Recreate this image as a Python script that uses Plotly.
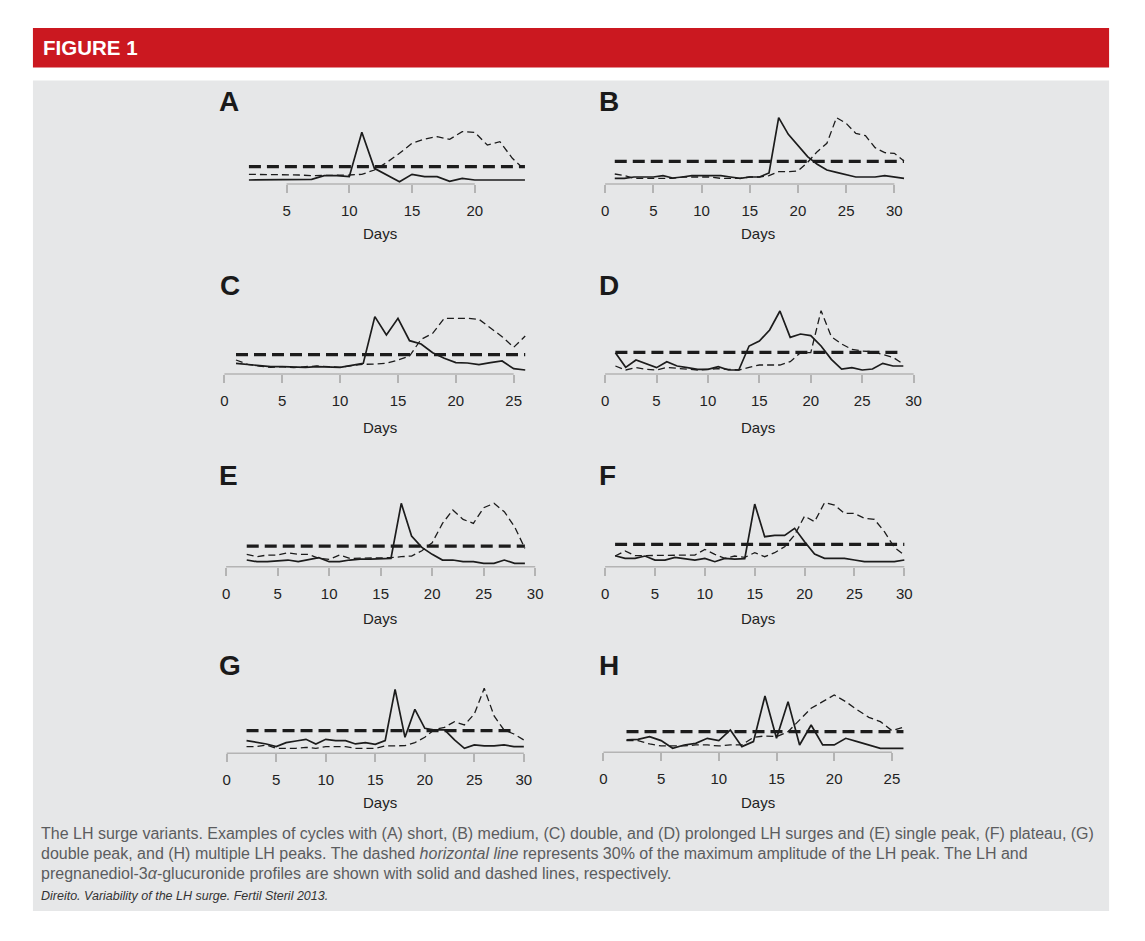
import plotly.graph_objects as go

# ---------------- data (relative units) ----------------
panel_letters = ["A", "B", "C", "D", "E", "F", "G", "H"]

days_A = list(range(2, 25))
lh_A = [12, 12, 12, 12, 12, 14, 25, 25, 22, 155, 47, 27, 7, 29, 22, 22, 8, 17, 12, 12, 12, 12, 12]
pdg_A = [29, 29, 29, 29, 27, 25, 25, 25, 27, 29, 42, 65, 92, 122, 135, 142, 134, 157, 155, 117, 127, 77, 42]
thr_A = 52
thr_days_A = [2, 24]
ticks_A = [5, 10, 15, 20]

days_B = list(range(1, 32))
lh_B = [17, 17, 21, 21, 21, 25, 18, 21, 25, 25, 25, 25, 21, 17, 21, 21, 33, 199, 149, 117, 82, 59, 42, 35, 29, 21, 21, 21, 25, 21, 17]
pdg_B = [30, 25, 17, 17, 17, 17, 17, 21, 21, 21, 21, 17, 17, 17, 21, 21, 25, 37, 37, 39, 65, 97, 122, 199, 182, 152, 145, 109, 94, 92, 69]
thr_B = 68
thr_days_B = [1, 31]
ticks_B = [0, 5, 10, 15, 20, 25, 30]

days_C = list(range(1, 27))
lh_C = [32, 28, 24, 22, 22, 20, 20, 22, 22, 20, 26, 32, 172, 117, 167, 100, 90, 64, 47, 34, 33, 28, 34, 39, 16, 12]
pdg_C = [42, 29, 24, 20, 22, 19, 22, 24, 22, 20, 25, 29, 30, 32, 42, 54, 104, 122, 167, 167, 167, 164, 137, 112, 80, 114]
thr_C = 58
thr_days_C = [1, 26]
ticks_C = [0, 5, 10, 15, 20, 25]

days_D = list(range(1, 30))
lh_D = [64, 20, 42, 30, 19, 37, 24, 19, 14, 14, 22, 12, 12, 84, 99, 132, 189, 110, 120, 115, 84, 44, 15, 19, 12, 15, 32, 24, 24]
pdg_D = [24, 12, 19, 14, 12, 20, 17, 14, 12, 14, 16, 14, 12, 20, 27, 27, 27, 37, 64, 64, 190, 112, 90, 74, 69, 67, 59, 50, 30]
thr_D = 65
thr_days_D = [1, 29]
ticks_D = [0, 5, 10, 15, 20, 25, 30]

days_E = list(range(2, 30))
lh_E = [20, 15, 15, 18, 20, 15, 20, 27, 15, 15, 20, 23, 23, 25, 25, 190, 92, 58, 37, 20, 20, 15, 15, 10, 10, 20, 10, 10]
pdg_E = [37, 30, 35, 35, 42, 37, 37, 25, 22, 35, 25, 25, 25, 27, 27, 30, 32, 48, 72, 130, 170, 142, 130, 177, 190, 165, 120, 55]
thr_E = 62
thr_days_E = [2, 29]
ticks_E = [0, 5, 10, 15, 20, 25, 30]

days_F = list(range(1, 31))
lh_F = [33, 25, 25, 32, 20, 20, 28, 24, 20, 25, 15, 25, 23, 24, 188, 90, 94, 94, 115, 75, 38, 25, 25, 25, 20, 15, 15, 15, 15, 20]
pdg_F = [32, 47, 33, 33, 35, 35, 35, 35, 35, 52, 37, 25, 32, 28, 42, 30, 42, 60, 95, 152, 135, 192, 185, 160, 160, 145, 142, 105, 58, 35]
thr_F = 67
thr_days_F = [1, 30]
ticks_F = [0, 5, 10, 15, 20, 25, 30]

days_G = list(range(2, 31))
lh_G = [38, 33, 28, 20, 32, 37, 42, 28, 42, 38, 38, 28, 32, 27, 38, 192, 48, 132, 75, 70, 70, 40, 15, 25, 22, 22, 25, 20, 20]
pdg_G = [20, 20, 25, 15, 15, 15, 18, 15, 20, 20, 20, 15, 15, 15, 22, 23, 23, 32, 48, 72, 78, 95, 85, 118, 195, 112, 70, 58, 40]
thr_G = 68
thr_days_G = [2, 29]
ticks_G = [0, 5, 10, 15, 20, 25, 30]

days_H = list(range(2, 27))
lh_H = [37, 39, 47, 35, 12, 22, 27, 42, 35, 67, 17, 32, 169, 42, 152, 22, 82, 22, 22, 42, 32, 22, 12, 12, 12]
pdg_H = [35, 35, 25, 19, 19, 19, 22, 22, 19, 22, 22, 45, 49, 47, 62, 97, 132, 152, 172, 152, 127, 105, 92, 65, 75]
thr_H = 62
thr_days_H = [2, 26]
ticks_H = [0, 5, 10, 15, 20, 25]

x_label = "Days"
header_text = "FIGURE 1"
caption_lines = [
    "The LH surge variants. Examples of cycles with (A) short, (B) medium, (C) double, and (D) prolonged LH surges and (E) single peak, (F) plateau, (G)",
    "double peak, and (H) multiple LH peaks. The dashed <i>horizontal line</i> represents 30% of the maximum amplitude of the LH peak. The LH and",
    "pregnanediol-3<i>α</i>-glucuronide profiles are shown with solid and dashed lines, respectively.",
]
citation = "<i>Direito. Variability of the LH surge. Fertil Steril 2013.</i>"

panel_data = [
    (days_A, lh_A, pdg_A, thr_A, thr_days_A, ticks_A),
    (days_B, lh_B, pdg_B, thr_B, thr_days_B, ticks_B),
    (days_C, lh_C, pdg_C, thr_C, thr_days_C, ticks_C),
    (days_D, lh_D, pdg_D, thr_D, thr_days_D, ticks_D),
    (days_E, lh_E, pdg_E, thr_E, thr_days_E, ticks_E),
    (days_F, lh_F, pdg_F, thr_F, thr_days_F, ticks_F),
    (days_G, lh_G, pdg_G, thr_G, thr_days_G, ticks_G),
    (days_H, lh_H, pdg_H, thr_H, thr_days_H, ticks_H),
]

# ---------------- layout geometry (window pixels) ----------------
PAGE_MARGIN = 8          # default body margin of the html page
W, H = 1145 - PAGE_MARGIN, 941 - PAGE_MARGIN


def px_x(px):
    return (px - PAGE_MARGIN) / W


def px_y(py):
    return 1 - (py - PAGE_MARGIN) / H


# (pixel of day 0, px per day, x range, axis baseline y px, letter pos, "Days" pos)
geom = [
    (224.4, 12.58, (1.5, 24.5), 184.0, (218, 102), (381, 233)),
    (606.7, 9.667, (-0.5, 31.5), 184.0, (599, 102), (760, 233)),
    (225.0, 11.60, (-0.5, 26.5), 374.0, (219, 285), (381, 428)),
    (606.7, 10.31, (-0.5, 30.5), 374.0, (599, 285), (760, 428)),
    (226.7, 10.33, (-0.5, 30.5), 566.7, (218, 475), (381, 618)),
    (606.7, 10.00, (-0.5, 30.5), 566.7, (599, 475), (760, 618)),
    (227.3, 9.93, (-0.5, 30.5), 753.3, (218, 665), (381, 802)),
    (605.0, 11.57, (-0.5, 26.5), 752.3, (599, 665), (760, 802)),
]
Y_TOP = 215          # data units shown above the baseline
PX_PER_UNIT = 1 / 3  # vertical scale

INK = "#1c1c1c"
AXIS_GRAY = "#b4b4b4"
FONT = "Liberation Sans, Arial, sans-serif"

fig = go.Figure()
layout = dict(
    width=W, height=H,
    margin=dict(l=0, r=0, t=0, b=0),
    paper_bgcolor="white",
    plot_bgcolor="rgba(0,0,0,0)",
    showlegend=False,
    shapes=[],
    annotations=[],
)

# background panels
layout["shapes"].append(dict(type="rect", xref="paper", yref="paper", layer="below",
                             x0=px_x(33), x1=px_x(1112), y0=px_y(28), y1=px_y(67.5),
                             fillcolor="#cb1820", line=dict(width=0)))
layout["shapes"].append(dict(type="rect", xref="paper", yref="paper", layer="below",
                             x0=px_x(33), x1=px_x(1112), y0=px_y(80.5), y1=px_y(911),
                             fillcolor="#e6e7e8", line=dict(width=0)))
layout["annotations"].append(dict(text=f"<b>{header_text}</b>", xref="paper", yref="paper",
                                  x=px_x(41), y=px_y(48), xanchor="left", yanchor="middle",
                                  showarrow=False, font=dict(family=FONT, size=20.5, color="white")))

for i, (letter, (days, lh, pdg, thr, thr_days, ticks), g) in enumerate(zip(panel_letters, panel_data, geom), start=1):
    x0px, scale, (r0, r1), base_px, (lx, ly), (dx, dy) = g
    xa = "x" if i == 1 else f"x{i}"
    ya = "y" if i == 1 else f"y{i}"
    xkey = "xaxis" if i == 1 else f"xaxis{i}"
    ykey = "yaxis" if i == 1 else f"yaxis{i}"
    dom_x = [px_x(x0px + scale * r0), px_x(x0px + scale * r1)]
    top_px = base_px - Y_TOP * PX_PER_UNIT
    dom_y = [px_y(base_px), px_y(top_px)]

    layout[xkey] = dict(domain=dom_x, range=[r0, r1], anchor=ya, showgrid=False, zeroline=False,
                        showline=False, ticks="outside", ticklen=8, tickwidth=1.5, tickcolor=AXIS_GRAY,
                        tickvals=ticks, ticktext=[str(t) for t in ticks], ticklabelstandoff=5,
                        tickfont=dict(family=FONT, size=15, color="#222222"), fixedrange=True)
    layout[ykey] = dict(domain=dom_y, range=[0, Y_TOP], anchor=xa, visible=False, fixedrange=True)

    # axis baseline from first to last tick
    layout["shapes"].append(dict(type="line", xref=xa, yref=f"{ya} domain",
                                 x0=ticks[0], x1=ticks[-1], y0=0, y1=0,
                                 line=dict(color=AXIS_GRAY, width=1.5)))

    fig.add_trace(go.Scatter(x=thr_days, y=[thr, thr], mode="lines", xaxis=xa, yaxis=ya,
                             line=dict(color=INK, width=3.3, dash="12px,6px"), hoverinfo="skip"))
    fig.add_trace(go.Scatter(x=days, y=pdg, mode="lines", xaxis=xa, yaxis=ya,
                             line=dict(color=INK, width=1.3, dash="7px,4px"), name="PdG"))
    fig.add_trace(go.Scatter(x=days, y=lh, mode="lines", xaxis=xa, yaxis=ya,
                             line=dict(color=INK, width=1.7), name="LH"))

    layout["annotations"].append(dict(text=f"<b>{letter}</b>", xref="paper", yref="paper",
                                      x=px_x(lx), y=px_y(ly), xanchor="left", yanchor="middle",
                                      showarrow=False, font=dict(family=FONT, size=28, color="#1a1a1a")))
    layout["annotations"].append(dict(text=x_label, xref="paper", yref="paper",
                                      x=px_x(dx), y=px_y(dy), xanchor="center", yanchor="middle",
                                      showarrow=False, font=dict(family=FONT, size=15, color="#222222")))

for k, line in enumerate(caption_lines):
    layout["annotations"].append(dict(text=line, xref="paper", yref="paper",
                                      x=px_x(39), y=px_y(833 + 20 * k), xanchor="left", yanchor="middle",
                                      showarrow=False, font=dict(family=FONT, size=16, color="#5b5c5e")))
layout["annotations"].append(dict(text=citation, xref="paper", yref="paper",
                                  x=px_x(39), y=px_y(896), xanchor="left", yanchor="middle",
                                  showarrow=False, font=dict(family=FONT, size=12.5, color="#333333")))

fig.update_layout(**layout)
fig.write_html("out.html")
